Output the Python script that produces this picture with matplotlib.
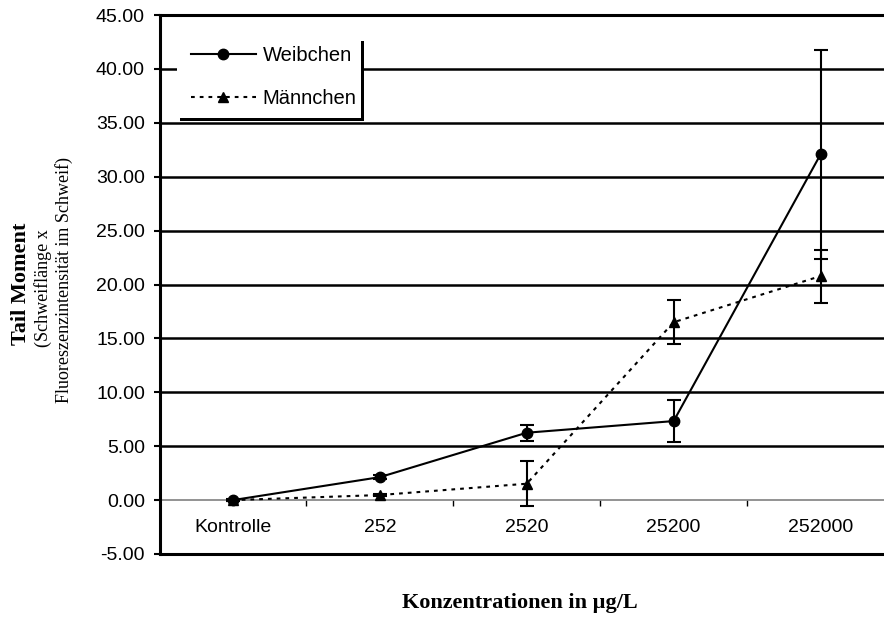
import numpy as np
import matplotlib
matplotlib.use('Agg')
import matplotlib.pyplot as plt
from matplotlib.patches import Rectangle
from matplotlib.lines import Line2D

# --- Data ---
categories   = ["Kontrolle", "252", "2520", "25200", "252000"]
weib_mean    = [0.00, 2.13, 6.25, 7.33, 32.07]
weib_err     = [0.10, 0.20, 0.75, 1.95, 9.67]
maenn_mean   = [0.00, 0.47, 1.52, 16.50, 20.78]
maenn_err    = [0.05, 0.10, 2.10, 2.05, 2.45]
y_ticks      = [-5, 0, 5, 10, 15, 20, 25, 30, 35, 40, 45]

W, H = 884, 619
SANS  = ["Liberation Sans", "DejaVu Sans"]
SERIF = ["Liberation Serif", "DejaVu Serif"]

fig = plt.figure(figsize=(W / 100, H / 100), dpi=100)
# plot area: x 159.5 -> 894 px (runs off the right edge), y 15 -> 554 px
ax = fig.add_axes([159.5 / W, (H - 554) / H, (894 - 159.5) / W, (554 - 15) / H])

x = np.arange(len(categories))
ax.set_xlim(-0.5, len(categories) - 0.5)
ax.set_ylim(-5, 45)

# gridlines
for v in y_ticks[2:-1]:
    ax.axhline(v, color="black", lw=1.8, zorder=1)

# --- Series ---
ax.errorbar(x, weib_mean, yerr=weib_err, color="black", lw=1.5, marker="o",
            markersize=7.5, capsize=4.8, capthick=1.5, elinewidth=1.5,
            zorder=4, label="Weibchen")
ax.errorbar(x, maenn_mean, yerr=maenn_err, color="black", lw=1.5, marker="^",
            markersize=7.5, capsize=4.8, capthick=1.5, elinewidth=1.5,
            linestyle=(0, (1.8, 2.4)), zorder=4, label="Männchen")

# axes look: zero line carries the category ticks
ax.spines["bottom"].set_position(("data", 0))
ax.spines["bottom"].set_color("#808080")
ax.spines["bottom"].set_linewidth(1.2)
ax.spines["bottom"].set_zorder(2)
ax.spines["left"].set_linewidth(2.2)
ax.spines["top"].set_linewidth(2.2)
ax.spines["right"].set_linewidth(2.2)
ax.axhline(-5, color="black", lw=2.2, clip_on=False, zorder=5)

ax.set_xticks(x[:-1] + 0.5)
ax.tick_params(axis="x", direction="out", length=4.5, width=1.0,
               color="black", labelbottom=False)
for xi, lab in zip(x, categories):
    ax.text(xi, -2.55, lab, ha="center", va="center", fontsize=14,
            family=SANS)

ax.set_yticks(y_ticks)
ax.set_yticklabels([f"{v:.2f}" for v in y_ticks], family=SANS, fontsize=14)
ax.tick_params(axis="y", direction="out", length=4.5, width=1.5, pad=6)

# --- Legend box with Excel-style shadow ---
def px_box(x0, y0, x1, y1):
    return (x0 / W, (H - y1) / H), (x1 - x0) / W, (y1 - y0) / H

xy, w, h = px_box(180, 41, 364, 121)
fig.patches.append(Rectangle(xy, w, h, transform=fig.transFigure,
                             facecolor="black", edgecolor="none", zorder=6))
xy, w, h = px_box(177, 38, 361, 118)
fig.patches.append(Rectangle(xy, w, h, transform=fig.transFigure,
                             facecolor="white", edgecolor="none", zorder=7))

handles = [Line2D([], [], color="black", lw=1.5, marker="o", markersize=7.5),
           Line2D([], [], color="black", lw=1.5, marker="^", markersize=7.5,
                  linestyle=(0, (1.8, 2.4)))]
leg = fig.legend(handles, ["Weibchen", "Männchen"], loc="center left",
                 bbox_to_anchor=(183 / W, (H - 77) / H), frameon=False,
                 prop={"family": SANS, "size": 14.5}, handlelength=3.2,
                 handletextpad=0.35, labelspacing=1.2, borderaxespad=0)
leg.set_zorder(8)

# --- Axis titles ---
fig.text(21 / W, (H - 284) / H, "Tail Moment", rotation=90, ha="center",
         va="center", fontsize=16, fontweight="bold", family=SERIF)
fig.text(43 / W, (H - 347) / H, "(Schweiflänge x", rotation=90, ha="center",
         va="bottom", fontsize=13, family=SERIF)
fig.text(64 / W, (H - 280) / H, "Fluoreszenzintensität im Schweif)", rotation=90,
         ha="center", va="center", fontsize=13, family=SERIF)
fig.text(520 / W, (H - 603) / H, "Konzentrationen in µg/L", ha="center",
         va="center", fontsize=16, fontweight="bold", family=SERIF)

fig.savefig("out.png", dpi=100)
